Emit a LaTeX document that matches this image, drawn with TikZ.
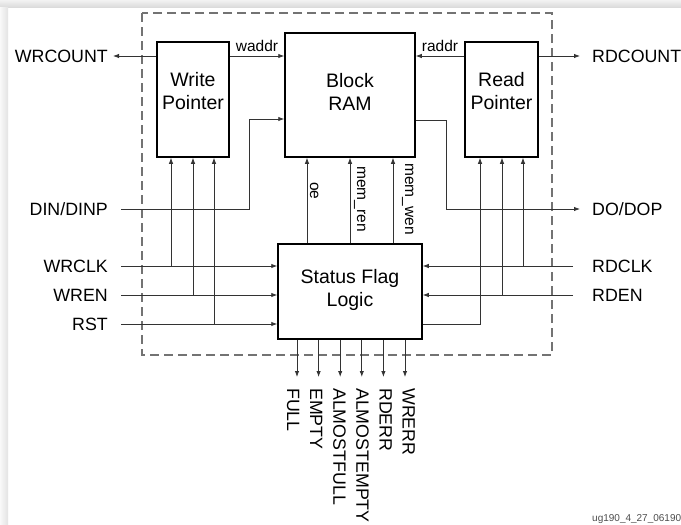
\documentclass[tikz,border=0pt]{standalone}
\usepackage{fontspec}
\setmainfont{Liberation Sans}
\usetikzlibrary{arrows.meta,positioning}

\begin{document}
\begin{tikzpicture}[x=1pt,y=-1pt,
    sig/.style={draw=black!80,line width=0.8pt},
    arr/.style={sig,-{Latex[length=6pt,width=4.4pt]}},
    blk/.style={draw,line width=1.5pt,inner sep=0pt},
    btxt/.style={align=center,font=\fontsize{19.5}{23}\selectfont},
    pin/.style={font=\fontsize{17.8}{21}\selectfont,inner sep=0pt,text height=12.8pt,text depth=0pt},
    small/.style={font=\fontsize{15.5}{18}\selectfont},
    vlab/.style={small,rotate=-90,inner sep=0pt,anchor=base west}]
  \useasboundingbox (0,0) rectangle (681,525);
  \shade[top color=gray!10,bottom color=gray!28] (0,0) rectangle (681,7);
  \shade[left color=gray!5,right color=gray!22] (0,7) rectangle (8,525);
  % FIFO boundary
  \draw[gray!90!black,line width=1.2pt,dash pattern=on 9pt off 5pt] (142,13) rectangle (552,355);

  \node[blk,minimum width=72pt,minimum height=115pt] (wp) at (193,99.5) {};
  \node[blk,minimum width=130pt,minimum height=124pt] (ram) at (350,95) {};
  \node[blk,minimum width=73pt,minimum height=115pt] (rp) at (501.5,99.5) {};
  \node[blk,minimum width=144pt,minimum height=95pt] (sfl) at (350,291.5) {};
  \node[btxt] at ([yshift=8pt]wp.center) {Write\\Pointer};
  \node[btxt] at ([yshift=3.5pt]ram.center) {Block\\RAM};
  \node[btxt] at ([yshift=8pt]rp.center) {Read\\Pointer};
  \node[btxt] at ([yshift=1.5pt]sfl.center) {Status Flag\\Logic};

  \node[pin,anchor=east] (wrcount) at (108,56) {WRCOUNT};
  \node[pin,anchor=east] (din) at (108,209) {DIN/DINP};
  \node[pin,anchor=east] (wrclk) at (108,266) {WRCLK};
  \node[pin,anchor=east] (wren) at (108,295) {WREN};
  \node[pin,anchor=east] (rst) at (108,324) {RST};
  \node[pin,anchor=west] (rdcount) at (592,56) {RDCOUNT};
  \node[pin,anchor=west] (dop) at (592,209) {DO/DOP};
  \node[pin,anchor=west] (rdclk) at (592,266) {RDCLK};
  \node[pin,anchor=west] (rden) at (592,295) {RDEN};

  % pointers and data
  \draw[arr] (wp.west |- wrcount) -- ([xshift=5pt]wrcount.east);
  \draw[arr] (wp.east |- wrcount) -- node[small,above,inner sep=4pt] {waddr} (ram.west |- wrcount);
  \draw[arr] (rp.west |- rdcount) -- node[small,above,inner sep=4pt] {raddr} (ram.east |- rdcount);
  \draw[arr] (rp.east |- rdcount) -- ([xshift=-12pt]rdcount.west);
  \draw[arr] ([xshift=13pt]din.east) -| (249,119) -- (ram.west |- 0,119);
  \draw[arr] (ram.east |- 0,120) -| (446,209) -- ([xshift=-12pt]dop.west);

  % clocks, enables, reset
  \foreach \s in {wrclk,wren,rst} \draw[arr] ([xshift=13pt]\s.east) -- (sfl.west |- \s);
  \foreach \s in {rdclk,rden} \draw[arr] ([xshift=-19pt]\s.west) -- (sfl.east |- \s);
  \foreach \x/\s in {171/wrclk,193/wren,214/rst} \draw[arr] (\x,0 |- \s) -- (\x,0 |- wp.south);
  \foreach \x/\s in {502/rden,523/rdclk} \draw[arr] (\x,0 |- \s) -- (\x,0 |- rp.south);
  \draw[arr] (sfl.east |- rst) -| (480,0 |- rp.south);

  % RAM control
  \draw[arr] (307,0 |- sfl.north) -- (307,0 |- ram.south);
  \draw[arr] (350,0 |- sfl.north) -- (ram.south);
  \draw[arr] (393,0 |- sfl.north) -- (393,0 |- ram.south);
  \node[vlab] at (310,182) {oe};
  \node[vlab] at (357,166) {mem\_ren};
  \node[vlab] at (405,163) {mem\_wen};

  % status flags
  \foreach \n [count=\i from 0] in {FULL,EMPTY,ALMOSTFULL,ALMOSTEMPTY,RDERR,WRERR}{
    \pgfmathsetmacro{\fx}{297+21.6*\i}
    \pgfmathsetmacro{\lx}{293.5+23.1*\i}
    \draw[arr] (\fx,0 |- sfl.south) -- (\fx,377);
    \node[pin,rotate=-90,anchor=west] at (\lx,388) {\n};
  }

  \node[font=\fontsize{10}{12}\selectfont,text=black!70,anchor=base west,inner sep=0pt] at (592,521) {ug190\_4\_27\_06190};
\end{tikzpicture}
\end{document}
